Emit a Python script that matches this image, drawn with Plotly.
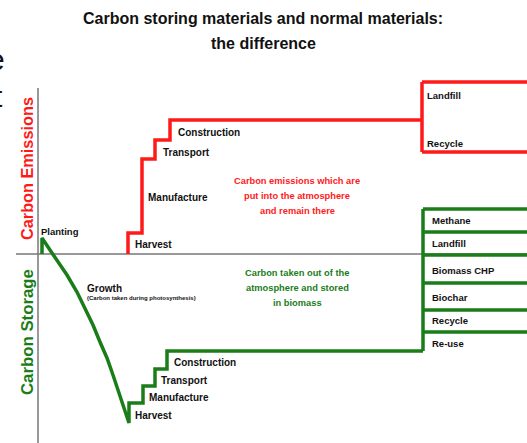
import plotly.graph_objects as go

W, H = 527, 443

title_lines = ["Carbon storing materials and normal materials:", "the difference"]

# Axis frame (diagram coordinates, y grows downward)
axis_v_x = [38, 38]
axis_v_y = [88, 443]
axis_h_x = [16, 527]
axis_h_y = [254, 254]

# Emissions path (red)
red_x = [128, 128, 142, 142, 155, 155, 170, 170, 422]
red_y = [254, 233, 233, 159, 159, 140, 140, 120, 120]
red_branch_x = 422
red_branch_y = [82, 152]
red_end_x = 527

# Storage path (green)
green_x = [42, 42, 52, 67, 77, 85, 93, 100, 107, 113, 119, 124, 129, 129, 143, 143, 155, 155, 167, 167, 423]
green_y = [254, 238, 253, 275, 292, 308, 325, 342, 358, 375, 392, 408, 423, 403, 403, 386, 386, 369, 369, 351, 351]
green_branch_x = 423
green_branch_y = [209, 232, 255, 283, 310, 332]
green_end_x = 527

# Labels
red_stage_labels = ["Harvest", "Manufacture", "Transport", "Construction"]
red_stage_x = [133, 146, 161, 176]
red_stage_y = [244, 197, 152, 132]
red_end_labels = ["Landfill", "Recycle"]
red_end_y = [95, 143]

green_stage_labels = ["Harvest", "Manufacture", "Transport", "Construction"]
green_stage_x = [133, 147, 159, 172]
green_stage_y = [415, 397, 380, 362]
green_end_labels = ["Methane", "Landfill", "Biomass CHP", "Biochar", "Recycle", "Re-use"]
green_end_y = [220, 243, 270, 297, 320, 343]

red_note = ["Carbon emissions which are", "put into the atmosphere", "and remain there"]
green_note = ["Carbon taken out of the", "atmosphere and stored", "in biomass"]

RED = "#ff1a1a"
GREEN = "#1a7d1a"
GRAY = "#777777"
FONT = "Liberation Sans"

fig = go.Figure()

fig.add_trace(go.Scatter(x=axis_v_x + [None] + axis_h_x, y=axis_v_y + [None] + axis_h_y,
                         mode="lines", line=dict(color=GRAY, width=1.5), hoverinfo="skip"))

# red
rx = list(red_x) + [None, red_branch_x, red_branch_x]
ry = list(red_y) + [None, red_branch_y[0], red_branch_y[1]]
for yy in red_branch_y:
    rx += [None, red_branch_x, red_end_x]
    ry += [None, yy, yy]
fig.add_trace(go.Scatter(x=rx, y=ry, mode="lines", line=dict(color=RED, width=3.5),
                         hoverinfo="skip"))

# green
gx = list(green_x) + [None, green_branch_x, green_branch_x]
gy = list(green_y) + [None, green_branch_y[0], green_y[-1]]
for yy in green_branch_y:
    gx += [None, green_branch_x, green_end_x]
    gy += [None, yy, yy]
fig.add_trace(go.Scatter(x=gx, y=gy, mode="lines", line=dict(color=GREEN, width=3.5),
                         hoverinfo="skip"))

ann = []

def label(text, x, y, size=9.5, color="#111111", xanchor="left"):
    ann.append(dict(x=x, y=y, xref="x", yref="y", text="<b>" + text + "</b>", showarrow=False,
                    xanchor=xanchor, yanchor="middle",
                    font=dict(family=FONT, size=size, color=color)))

for t, x, y in zip(red_stage_labels, red_stage_x, red_stage_y):
    label(t, x, y, size=10)
for t, x, y in zip(green_stage_labels, green_stage_x, green_stage_y):
    label(t, x, y, size=10)
for t, y in zip(red_end_labels, red_end_y):
    label(t, 425, y, size=9.5)
for t, y in zip(green_end_labels, green_end_y):
    label(t, 430, y, size=9.5)

label("Planting", 39, 231, size=9.5)
label("Growth", 85, 288, size=10)
label("(Carbon taken during photosynthesis)", 85, 298, size=6)

for i, t in enumerate(red_note):
    label(t, 297, 181 + 15 * i, size=9.3, color=RED, xanchor="center")
for i, t in enumerate(green_note):
    label(t, 297, 273 + 15 * i, size=9.3, color=GREEN, xanchor="center")

for i, t in enumerate(title_lines):
    ann.append(dict(x=263, y=18 + 25 * i, xref="x", yref="y", text="<b>" + t + "</b>",
                    showarrow=False, xanchor="center", yanchor="middle",
                    font=dict(family=FONT, size=16, color="#111111")))

ann.append(dict(x=27, y=169, xref="x", yref="y", text="<b>Carbon Emissions</b>", showarrow=False,
                textangle=-90, xanchor="center", yanchor="middle",
                font=dict(family=FONT, size=16.3, color=RED)))
ann.append(dict(x=27, y=332, xref="x", yref="y", text="<b>Carbon Storage</b>", showarrow=False,
                textangle=-90, xanchor="center", yanchor="middle",
                font=dict(family=FONT, size=16.8, color=GREEN)))

# cropped slide fragments at the left edge
ann.append(dict(x=7 / W, y=1 - 60 / H, xref="paper", yref="paper", text="e", showarrow=False,
                xanchor="right", yanchor="middle", font=dict(family=FONT, size=30, color="#111111")))
ann.append(dict(x=5 / W, y=1 - 96 / H, xref="paper", yref="paper", text="t", showarrow=False,
                xanchor="right", yanchor="middle", font=dict(family=FONT, size=30, color="#111111")))

fig.update_layout(
    width=W, height=H, margin=dict(l=0, r=0, t=0, b=0),
    paper_bgcolor="white", plot_bgcolor="white", showlegend=False,
    xaxis=dict(range=[0, W], visible=False, fixedrange=True),
    yaxis=dict(range=[H, 0], visible=False, fixedrange=True),
    annotations=ann,
)

fig.write_html("out.html", config={"displayModeBar": False},
               post_script="document.body.style.margin='0';document.body.style.overflow='hidden';")
